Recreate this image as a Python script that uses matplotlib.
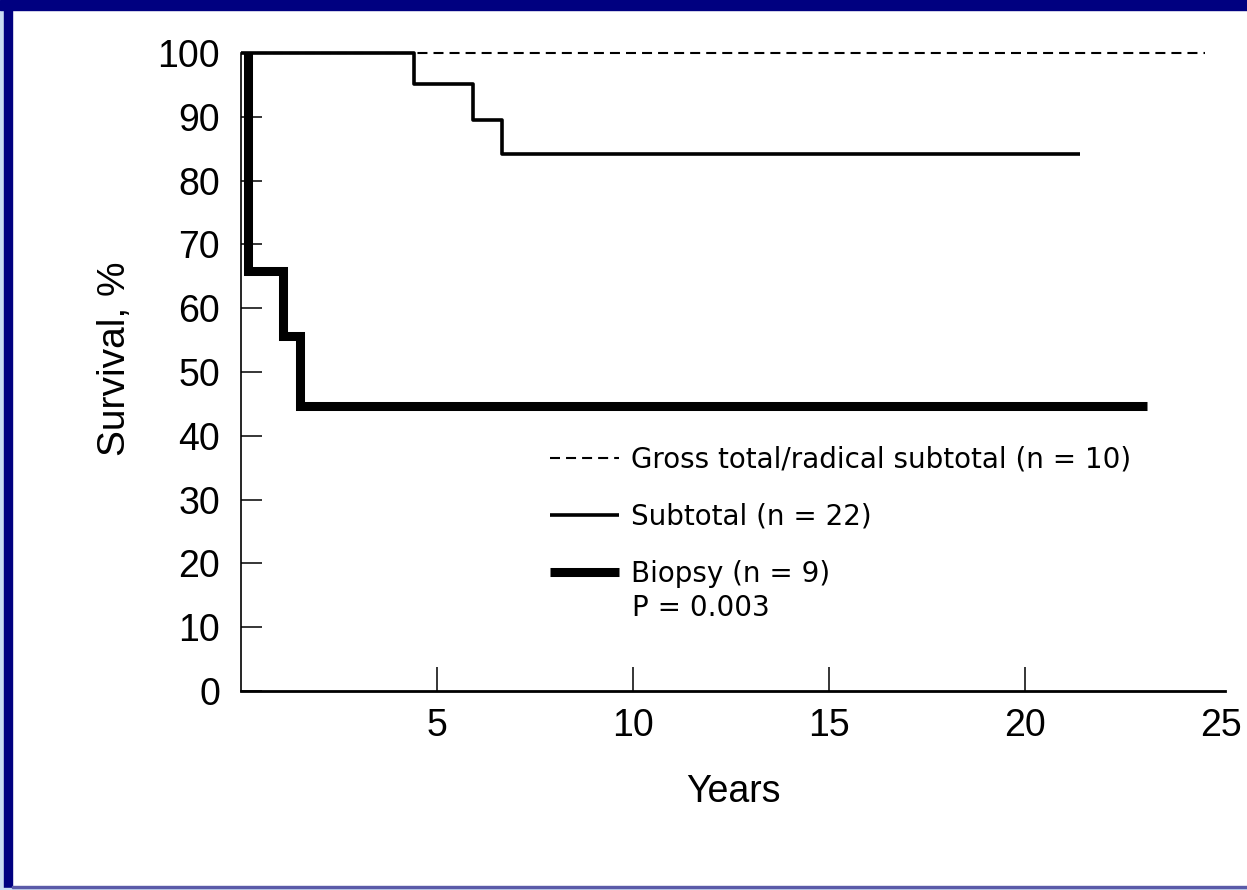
import matplotlib
matplotlib.use("Agg")
import matplotlib.pyplot as plt
from matplotlib.patches import Rectangle

plt.rcParams["font.family"] = ["Liberation Sans", "DejaVu Sans"]

# Kaplan-Meier curves (years, survival %)
gross_t = [0.0, 24.6]
gross_s = [100.0, 100.0]
sub_t = [0.0, 4.41, 5.92, 6.66, 21.4]
sub_s = [100.0, 95.1, 89.5, 84.1, 84.1]
bio_t = [0.0, 0.19, 1.07, 1.5, 23.1]
bio_s = [100.0, 65.8, 55.6, 44.6, 44.6]

labels = ["Gross total/radical subtotal (n = 10)", "Subtotal (n = 22)", "Biopsy (n = 9)"]
p_text = "P = 0.003"
x_ticks = [5, 10, 15, 20, 25]
y_ticks = list(range(0, 101, 10))

W, H = 1247, 890
fig = plt.figure(figsize=(W / 100, H / 100), dpi=100)
fig.patch.set_facecolor("white")

# blue frame around the slide
navy = "#000080"
light = "#c9dcf2"
fig.patches.append(Rectangle((0, 0), 4 / W, 1, transform=fig.transFigure, color=light, zorder=0))
fig.patches.append(Rectangle((4 / W, 0), 8 / W, 1, transform=fig.transFigure, color=navy, zorder=0))
fig.patches.append(Rectangle((0, 1 - 10 / H), 1, 10 / H, transform=fig.transFigure, color=navy, zorder=0))
fig.patches.append(Rectangle((0, 0), 1, 2 / H, transform=fig.transFigure, color=light, zorder=0))
fig.patches.append(Rectangle((12 / W, 2 / H), 1, 2 / H, transform=fig.transFigure, color="#5a5aa8", zorder=0))

ax = fig.add_axes([241 / W, 1 - 691 / H, 984 / W, 638 / H])
ax.set_facecolor("none")

l1, = ax.step(gross_t, gross_s, where="post", color="black", lw=1.5,
              dashes=(4.8, 2.9), clip_on=False, zorder=2)
l2, = ax.step(sub_t, sub_s, where="post", color="black", lw=2.6,
              solid_capstyle="butt", clip_on=False, zorder=3)
# biopsy curve drawn from its first drop, so the thick line has no stub at 100 %
l3, = ax.step(bio_t[1:], bio_s[:-1], where="pre", color="black", lw=6.5,
              solid_capstyle="butt", solid_joinstyle="miter", clip_on=False, zorder=4)

ax.set_xlim(0, 25.1)
ax.set_ylim(0, 100)
ax.set_xticks(x_ticks)
ax.set_yticks(y_ticks)
ax.xaxis.get_major_ticks()[-1].tick1line.set_visible(False)

for side in ["top", "right"]:
    ax.spines[side].set_visible(False)
ax.spines["left"].set_linewidth(1.2)
ax.spines["bottom"].set_linewidth(2.0)

ax.tick_params(axis="y", direction="in", length=15, width=1.1, pad=15, labelsize=27)
ax.tick_params(axis="x", direction="in", length=17, width=1.1, pad=12, labelsize=27)

ax.set_ylabel("Survival, %", fontsize=28, labelpad=18)
ax.yaxis.label.set_y(0.52)
ax.set_xlabel("Years", fontsize=27, labelpad=22)

leg = ax.legend([l1, l2, l3], labels, loc="upper left", bbox_to_anchor=(0.314, 0.385),
                frameon=False, prop={"family": "DejaVu Sans", "size": 20},
                handlelength=2.5, handletextpad=0.43, labelspacing=1.05,
                borderpad=0, borderaxespad=0)
ax.text(0.3974, 0.130, p_text, transform=ax.transAxes, family="DejaVu Sans",
        fontsize=20, ha="left", va="center")

fig.savefig("out.png", dpi=100)
